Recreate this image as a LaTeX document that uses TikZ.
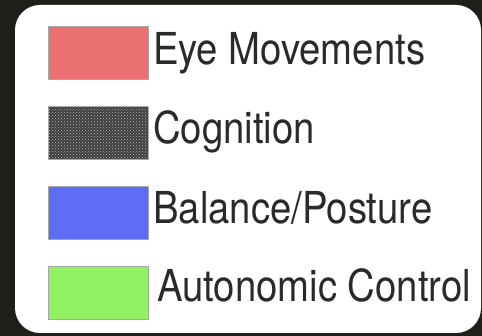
\documentclass[tikz,border=0pt]{standalone}
\usepackage{fontspec}
\newfontfamily\legfont[FakeStretch=0.87]{TeX Gyre Heros}
\usetikzlibrary{patterns}
\definecolor{bg}{HTML}{1E1E1B}
\definecolor{eyec}{HTML}{EA7072}
\definecolor{cogc}{HTML}{3E3E3E}
\definecolor{balc}{HTML}{5F6CF6}
\definecolor{autc}{HTML}{92F263}
\definecolor{txt}{HTML}{2A2A2A}
\begin{document}
\begin{tikzpicture}[x=1pt,y=-1pt,
  swatch/.style={draw=gray!70,line width=0.8pt,minimum width=100pt,minimum height=53pt,inner sep=0pt,anchor=north west},
  label/.style={anchor=base west,inner sep=0pt,text=txt,font=\legfont\fontsize{44}{44}\selectfont}]
\useasboundingbox (0,0) rectangle (482,336);
\fill[bg] (0,0) rectangle (482,336);
\fill[white,rounded corners=25pt] (15,5) rectangle (481,333);
\node[swatch,fill=eyec] (eye) at (48,26) {};
\node[swatch,fill=cogc] (cog) at (48,106) {};
\fill[pattern=crosshatch dots,pattern color=gray!55] (cog.north west) rectangle (cog.south east);
\node[swatch,fill=balc] (bal) at (48,186) {};
\node[swatch,fill=autc] (aut) at (48,266) {};
\node[label] (teye) at (153,65) {Eye Movements};
\node[label] (tcog) at (153,144) {Cognition};
\node[label] (tbal) at (153,224) {Balance/Posture};
\node[label] (taut) at (157,302) {Autonomic Control};
\end{tikzpicture}
\end{document}
